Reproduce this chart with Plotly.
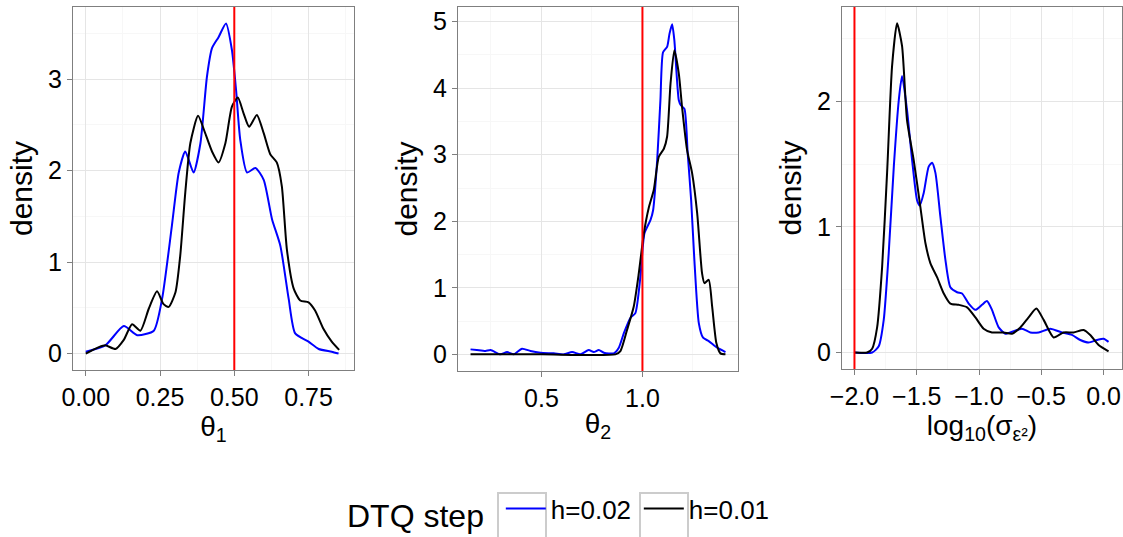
import plotly.graph_objects as go

# density curves (x, density)
theta1_x_h02 = [0.0, 0.066, 0.128, 0.173, 0.229, 0.257, 0.29, 0.313, 0.335, 0.363, 0.386, 0.408,
                0.425, 0.447, 0.472, 0.492, 0.506, 0.52, 0.543, 0.571, 0.599, 0.627, 0.655, 0.683,
                0.705, 0.75, 0.784, 0.828, 0.851]
theta1_y_h02 = [0.02, 0.09, 0.30, 0.20, 0.25, 0.60, 1.40, 1.98, 2.21, 1.98, 2.30, 3.03,
                3.34, 3.46, 3.61, 3.32, 2.88, 2.34, 1.98, 2.03, 1.90, 1.47, 1.18, 0.60,
                0.22, 0.13, 0.05, 0.02, 0.0]
theta1_x_h01 = [0.0, 0.044, 0.066, 0.1, 0.128, 0.156, 0.184, 0.212, 0.24, 0.262, 0.279, 0.302,
                0.318, 0.335, 0.352, 0.378, 0.402, 0.425, 0.447, 0.47, 0.492, 0.512, 0.531, 0.55,
                0.576, 0.599, 0.621, 0.643, 0.66, 0.677, 0.7, 0.722, 0.75, 0.772, 0.8, 0.828, 0.853]
theta1_y_h01 = [0.0, 0.07, 0.09, 0.05, 0.15, 0.32, 0.25, 0.49, 0.68, 0.54, 0.51, 0.67,
                1.07, 1.76, 2.30, 2.60, 2.41, 2.21, 2.09, 2.30, 2.70, 2.80, 2.63, 2.48,
                2.61, 2.41, 2.18, 2.09, 1.83, 1.14, 0.71, 0.58, 0.56, 0.47, 0.27, 0.13, 0.04]

theta2_x_h02 = [0.149, 0.18, 0.223, 0.248, 0.297, 0.33, 0.363, 0.404, 0.446, 0.495, 0.561, 0.611,
                0.652, 0.693, 0.734, 0.759, 0.784, 0.809, 0.858, 0.883, 0.908, 0.941, 0.965, 0.99,
                1.01, 1.04, 1.053, 1.073, 1.089, 1.102, 1.122, 1.134, 1.147, 1.158, 1.18, 1.191,
                1.208, 1.224, 1.241, 1.257, 1.279, 1.3, 1.328, 1.37, 1.411]
theta2_y_h02 = [0.075, 0.065, 0.05, 0.065, 0.0, 0.035, 0.0, 0.085, 0.05, 0.025, 0.015, 0.0,
                0.035, 0.0, 0.065, 0.035, 0.065, 0.025, 0.015, 0.1, 0.32, 0.55, 0.62, 1.17,
                1.82, 2.02, 2.17, 2.92, 3.82, 4.54, 4.62, 4.82, 4.96, 4.72, 3.82, 3.74,
                3.69, 3.02, 2.32, 1.42, 0.47, 0.25, 0.2, 0.1, 0.035]
theta2_x_h01 = [0.149, 0.5, 0.866, 0.891, 0.924, 0.957, 0.982, 1.007, 1.031, 1.056, 1.081, 1.106,
                1.122, 1.139, 1.158, 1.18, 1.196, 1.221, 1.246, 1.271, 1.295, 1.307, 1.328, 1.345,
                1.366, 1.386, 1.411]
theta2_y_h01 = [0.0, 0.0, 0.0, 0.05, 0.37, 0.72, 1.22, 1.82, 2.20, 2.47, 2.97, 3.09,
                3.27, 4.07, 4.57, 4.22, 3.72, 3.07, 2.72, 2.12, 1.22, 1.07, 1.12, 0.72,
                0.17, 0.015, 0.0]

sigma_x_h02 = [-2.0, -1.858, -1.805, -1.765, -1.725, -1.684, -1.644, -1.618, -1.578, -1.537,
               -1.497, -1.476, -1.444, -1.404, -1.377, -1.35, -1.31, -1.27, -1.23, -1.176,
               -1.136, -1.083, -1.029, -0.976, -0.936, -0.896, -0.842, -0.789, -0.722, -0.655,
               -0.588, -0.521, -0.428, -0.334, -0.254, -0.187, -0.12, -0.053, 0.0, 0.04]
sigma_y_h02 = [0.0, 0.0, 0.05, 0.26, 0.79, 1.48, 2.01, 2.20, 1.93, 1.53,
               1.21, 1.17, 1.27, 1.48, 1.51, 1.43, 1.08, 0.74, 0.52, 0.48,
               0.47, 0.39, 0.34, 0.38, 0.41, 0.34, 0.20, 0.15, 0.17, 0.19,
               0.16, 0.16, 0.19, 0.16, 0.14, 0.10, 0.08, 0.10, 0.11, 0.085]
sigma_x_h01 = [-2.0, -1.898, -1.858, -1.818, -1.778, -1.738, -1.698, -1.658, -1.618, -1.578,
               -1.524, -1.471, -1.43, -1.39, -1.337, -1.283, -1.23, -1.163, -1.096, -1.029,
               -0.963, -0.896, -0.802, -0.735, -0.668, -0.602, -0.54, -0.481, -0.401, -0.321,
               -0.241, -0.16, -0.107, -0.04, 0.04]
sigma_y_h01 = [0.0, 0.0, 0.03, 0.20, 0.68, 1.43, 2.28, 2.62, 2.44, 1.85,
               1.53, 1.16, 0.87, 0.71, 0.60, 0.47, 0.39, 0.38, 0.36, 0.28,
               0.19, 0.16, 0.16, 0.15, 0.20, 0.28, 0.35, 0.26, 0.12, 0.16,
               0.16, 0.18, 0.14, 0.06, 0.01]

true_values = [0.5, 1.0, -2.0]
step_labels = ["h=0.02", "h=0.01"]
step_colors = ["#0000FF", "#000000"]

panels = [
    ([theta1_x_h02, theta1_x_h01], [theta1_y_h02, theta1_y_h01]),
    ([theta2_x_h02, theta2_x_h01], [theta2_y_h02, theta2_y_h01]),
    ([sigma_x_h02, sigma_x_h01], [sigma_y_h02, sigma_y_h01]),
]

W, H = 1123, 537
FONT = "Liberation Sans, Arial, sans-serif"


def px_x(v):
    return v / W


def px_y(v):
    return 1 - v / H


fig = go.Figure()
for p, (xs, ys) in enumerate(panels):
    sfx = "" if p == 0 else str(p + 1)
    for k in range(2):
        fig.add_trace(go.Scatter(
            x=xs[k], y=ys[k], mode="lines",
            line=dict(color=step_colors[k], width=2, shape="spline", smoothing=0.6),
            name=step_labels[k], legendgroup=step_labels[k], showlegend=(p == 0),
            xaxis="x" + sfx, yaxis="y" + sfx,
        ))
    fig.add_shape(type="line", xref="x" + sfx, yref="y" + sfx + " domain",
                  x0=true_values[p], x1=true_values[p], y0=0, y1=1,
                  line=dict(color="#FF0000", width=2))

# plot areas in pixels (left, right, top, bottom)
boxes = [(73, 354, 7, 370), (458, 738, 7, 371), (842, 1122, 7, 369)]
xranges = [[-0.043, 0.903], [0.087, 1.473], [-2.1, 0.148]]
yranges = [[-0.18, 3.79], [-0.25, 5.22], [-0.131, 2.75]]
xdticks = [0.25, 0.5, 0.5]
xformats = [".2f", ".1f", ".1f"]
xtitles = ["θ<sub>1</sub>", "θ<sub>2</sub>", "log<sub>10</sub>(σ<sub>ε²</sub>)"]

axis_common = dict(
    showline=True, linecolor="#7f7f7f", linewidth=1.3, mirror=True,
    showgrid=True, gridcolor="#e5e5e5", gridwidth=1, zeroline=False,
    ticks="outside", ticklen=5, tickcolor="#7f7f7f", tickwidth=1.3,
    tickfont=dict(size=25, color="#000000", family=FONT),
    automargin=False,
)
for p in range(3):
    sfx = "" if p == 0 else str(p + 1)
    l, r, t, b = boxes[p]
    fig.update_layout(**{
        "xaxis" + sfx: dict(
            axis_common, domain=[px_x(l), px_x(r)], anchor="y" + sfx,
            range=xranges[p], dtick=xdticks[p], tick0=0, tickformat=xformats[p],
            minor=dict(dtick=xdticks[p] / 2, tick0=0, showgrid=True, gridcolor="#f7f7f7", gridwidth=1),
            title=dict(text=xtitles[p], font=dict(size=28, family=FONT, color="#000000"), standoff=2),
        ),
        "yaxis" + sfx: dict(
            axis_common, domain=[px_y(b), px_y(t)], anchor="x" + sfx,
            range=yranges[p], dtick=1, tick0=0,
            minor=dict(dtick=0.5, tick0=0, showgrid=True, gridcolor="#f7f7f7", gridwidth=1),
            title=dict(text="density", font=dict(size=30, family=FONT, color="#000000"), standoff=6),
        ),
    })

# grey frames around the legend keys, as in the ggplot legend
for x0 in [498, 640]:
    fig.add_shape(type="rect", xref="paper", yref="paper",
                  x0=px_x(x0), x1=px_x(x0 + 48), y0=px_y(545), y1=px_y(493),
                  line=dict(color="#cccccc", width=2), fillcolor="rgba(0,0,0,0)")

fig.update_layout(
    width=W, height=H,
    margin=dict(l=0, r=0, t=0, b=0),
    paper_bgcolor="white", plot_bgcolor="white",
    font=dict(family=FONT, color="#000000"),
    showlegend=True,
    # legend kept fully inside the paper so it does not push the plot margins
    legend=dict(
        orientation="h", x=px_x(345), xanchor="left", y=0, yanchor="bottom",
        title=dict(text="DTQ step ", font=dict(size=32, family=FONT), side="left"),
        font=dict(size=26, family=FONT), itemwidth=40,
        entrywidth=83, entrywidthmode="pixels", bgcolor="rgba(0,0,0,0)",
    ),
)

# drop the default body margin so the figure fills the window exactly
fig.write_html("out.html", config={"displayModeBar": False},
               post_script="document.body.style.margin='0px';")
